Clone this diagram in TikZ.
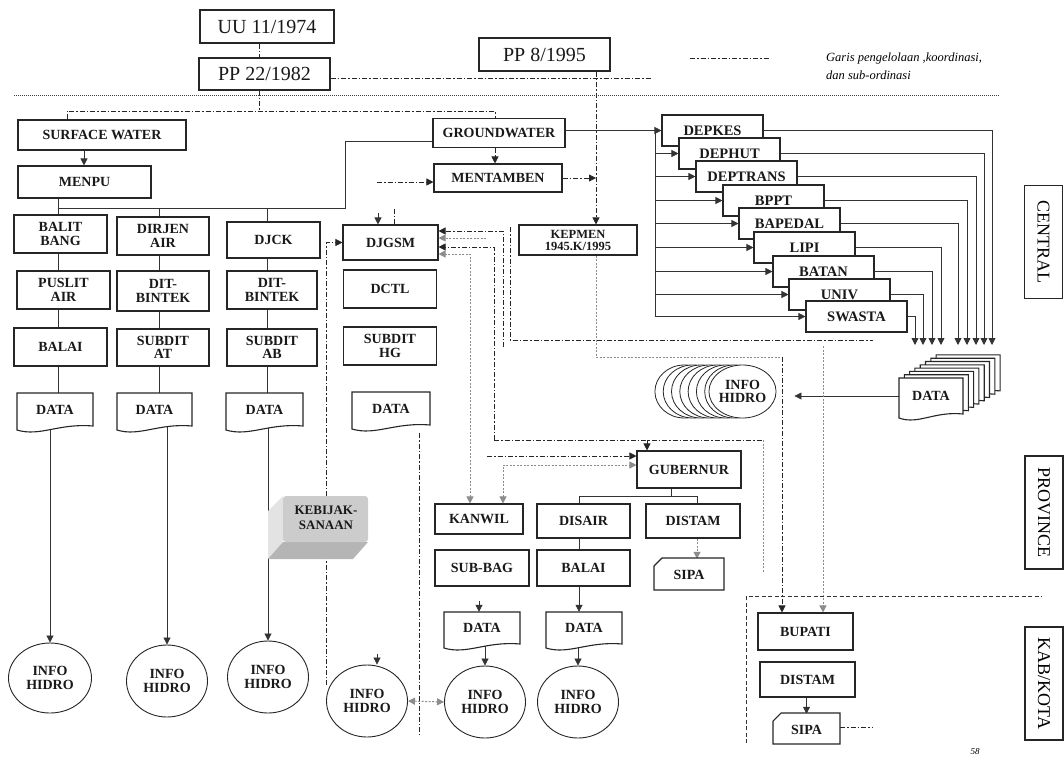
\documentclass[tikz,border=0pt]{standalone}
\usepackage{fontspec}
\setmainfont{Liberation Serif}
\usetikzlibrary{arrows.meta,shapes.geometric}
\pgfdeclarelayer{bg}
\pgfsetlayers{bg,main}
\tikzset{
  lab/.style={font=\bfseries\fontsize{14}{13.5}\selectfont, align=center, inner sep=0pt, text=black!90},
  box/.style={lab, draw=black!85, line width=1.1pt, fill=white, rectangle},
  big/.style={box, font=\fontsize{20}{20}\selectfont},
  side/.style={draw=black!85, line width=1.1pt, rotate=-90, inner sep=0pt, font=\fontsize{18}{18}\selectfont, minimum width=113pt, minimum height=38pt},
  info/.style={lab, draw=black!85, line width=0.9pt, ellipse, fill=white, minimum width=81pt, minimum height=72pt},
  conn/.style={draw=black!80, line width=0.8pt},
  dd/.style={draw=black!85, line width=0.8pt, dash pattern=on 5pt off 2pt on 1.5pt off 2pt},
  gd/.style={draw=black!45, line width=1pt, dash pattern=on 2pt off 1.5pt},
  docline/.style={draw=black!85, line width=1.1pt, fill=white},
}
\newcommand\mybx[6]{\node[box, minimum width=#4pt, minimum height=#5pt] (#1) at (#2,#3) {#6};}
\newcommand\docdraw[4]{\draw[docline] (#1,#2) -- (#3,#2) -- (#3,#4-6) .. controls ({#1+0.55*(#3-#1)},#4-9) and ({#1+0.3*(#3-#1)},#4+5) .. (#1,#4-2) -- cycle;}
\newcommand\docnode[6]{\docdraw{#2}{#3}{#4}{#5}%
  \pgfmathsetmacro\mydw{#4-#2}\pgfmathsetmacro\mydh{#5-#3-6}%
  \node[lab, minimum width=\mydw pt, minimum height=\mydh pt] (#1) at ({(#2+#4)/2},{(#3+#5-6)/2}) {#6};}
\newcommand\cardnode[6]{\draw[docline] (#2,#3+8) -- (#2+8,#3) -- (#4,#3) -- (#4,#5) -- (#2,#5) -- cycle;
  \pgfmathsetmacro\mydw{#4-#2}\pgfmathsetmacro\mydh{#5-#3}%
  \node[lab, minimum width=\mydw pt, minimum height=\mydh pt] (#1) at ({(#2+#4)/2},{(#3+#5)/2+1}) {#6};}
\begin{document}
\begin{tikzpicture}[x=1pt,y=-1pt,>={Triangle[length=7pt,width=7pt]}]
\useasboundingbox (0,0) rectangle (1064,758);
\begin{pgfonlayer}{bg}
\fill[white] (0,0) rectangle (1064,758);
\end{pgfonlayer}

% ---------- top ----------
\node[big, minimum width=134pt, minimum height=33pt] (uu) at (267,26.5) {UU 11/1974};
\node[big, minimum width=131pt, minimum height=32pt] (pp22) at (264.5,74) {PP 22/1982};
\node[big, minimum width=131pt, minimum height=33pt] (pp8) at (544.5,54.5) {PP 8/1995};
\coordinate (lg1) at (690,58); \coordinate (lg2) at (770,58);
\node[anchor=west, font=\itshape\fontsize{12.5}{18}\selectfont, align=left, inner sep=0pt] (legend) at (826,66) {Garis pengelolaan ,koordinasi,\\dan sub-ordinasi};

% ---------- central ----------
\mybx{sw}{102}{135}{168}{30}{SURFACE WATER}
\mybx{menpu}{84.5}{182}{133}{32}{MENPU}
\mybx{gw}{499}{133}{132}{29}{GROUNDWATER}
\mybx{mentamben}{498}{178}{128}{28}{MENTAMBEN}
\node[box, font=\bfseries\fontsize{12.5}{12}\selectfont, minimum width=118pt, minimum height=30pt] (kepmen) at (578,240) {KEPMEN\\1945.K/1995};

\mybx{balit}{60.5}{234}{93}{38}{BALIT\\BANG}
\mybx{puslit}{63.5}{290}{93}{38}{PUSLIT\\AIR}
\mybx{balai1}{60.5}{347}{93}{38}{BALAI}
\docnode{data1}{17}{393}{93}{432}{DATA}
\mybx{dirjen}{163}{236}{92}{38}{DIRJEN\\AIR}
\mybx{bintek1}{163}{291}{92}{40}{DIT-\\BINTEK}
\mybx{subditat}{163}{347.5}{92}{37}{SUBDIT\\AT}
\docnode{data2}{117}{393}{192}{432}{DATA}
\mybx{djck}{273.5}{240}{93}{36}{DJCK}
\mybx{bintek2}{272}{290}{90}{38}{DIT-\\BINTEK}
\mybx{subditab}{272}{347.5}{90}{37}{SUBDIT\\AB}
\docnode{data3}{226}{393}{303}{432}{DATA}
\mybx{djgsm}{390.5}{242.5}{95}{35}{DJGSM}
\mybx{dctl}{390}{289}{93}{38}{DCTL}
\mybx{subdithg}{390}{346}{93}{38}{SUBDIT\\HG}
\docnode{data4}{352}{392}{430}{431}{DATA}

% agencies
\foreach \n/\lbl/\x/\y in {depkes/DEPKES/662/115, dephut/DEPHUT/679/138, deptrans/DEPTRANS/696/161, bppt/BPPT/723/185, bapedal/BAPEDAL/739/208, lipi/LIPI/754/232, batan/BATAN/773/256, univ/UNIV/789/279, swasta/SWASTA/806/301}{
  \node[box, font=\bfseries\fontsize{14.5}{14}\selectfont, minimum width=101pt, minimum height=31pt] (\n) at (\x+50.5,\y+15.5) {\lbl};
}

% data stack
\foreach \i in {7,6,...,1}{
  \begin{scope}[shift={(\i*5.3,-\i*3.3)}]
    \docdraw{899}{378}{963}{420}
  \end{scope}
}
\docnode{dsf}{899}{378}{963}{420}{DATA}

% info stack
\foreach \i in {7,6,...,1}{
  \draw[fill=white, draw=black!85, line width=0.8pt] ({742.5-\i*8.3},391.5) ellipse [x radius=29.5, y radius=26.5];
}
\node[lab, draw=black!85, line width=0.8pt, ellipse, fill=white, minimum width=59pt, minimum height=53pt] (ihf) at (742.5,391.5) {INFO\\HIDRO};

% side labels
\node[side] (central) at (1043.5,242) {CENTRAL};
\node[side] (province) at (1044,512.5) {PROVINCE};
\node[side] (kabkota) at (1044,683.5) {KAB/KOTA};

% ---------- province ----------
\mybx{gub}{689}{469.5}{104}{37}{GUBERNUR}
\mybx{kanwil}{479}{519}{88}{30}{KANWIL}
\mybx{subbag}{482}{568}{94}{36}{SUB-BAG}
\mybx{disair}{583.5}{521}{93}{34}{DISAIR}
\mybx{balai2}{583.5}{568}{93}{36}{BALAI}
\mybx{distam}{693}{521}{94}{34}{DISTAM}
\cardnode{sipa1}{654}{558}{724}{590}{SIPA}
\docnode{data5}{444}{612}{520}{650}{DATA}
\docnode{data6}{546}{612}{622}{650}{DATA}

% ---------- kab/kota ----------
\mybx{bupati}{805.5}{631.5}{95}{37}{BUPATI}
\mybx{distam2}{807.5}{679.5}{95}{35}{DISTAM}
\cardnode{sipa2}{773}{713}{840}{744}{SIPA}

% info hidro
\node[info, minimum width=83pt, minimum height=70pt] (info1) at (50,678) {INFO\\HIDRO};
\node[info] (info2) at (167,681) {INFO\\HIDRO};
\node[info] (info3) at (268,677) {INFO\\HIDRO};
\node[info] (info4) at (367,701) {INFO\\HIDRO};
\node[info] (info5) at (485,702) {INFO\\HIDRO};
\node[info] (info6) at (578,702) {INFO\\HIDRO};

% kebijaksanaan block
\fill[gray!22] (268,511) -- (283,496) -- (283,542) -- (268,559) -- cycle;
\fill[gray!58] (268,559) -- (283,542) -- (368,542) -- (353,559) -- cycle;
\fill[gray!40, rounded corners=3pt] (283,496) rectangle (368,542);
\node[lab, font=\bfseries\fontsize{13}{15}\selectfont] (kebijak) at (326,518) {KEBIJAK-\\SANAAN};

\node[font=\itshape\fontsize{9}{9}\selectfont, inner sep=0pt] (pg) at (975,752) {58};

% ---------- connectors ----------
\begin{pgfonlayer}{bg}
\draw[dd] (lg1) -- (lg2);
\coordinate (s1) at (14,95); \coordinate (s2) at (1000,95);
\draw[draw=black!75, line width=0.9pt, dash pattern=on 1pt off 1pt] (s1) -- (s2);

\coordinate (vA) at (259,0);
\coordinate (brY) at (0,111);
\coordinate (swX) at (67,0);
\coordinate (gwX) at (495,0);
\draw[dd] (uu.south -| vA) -- (pp22.north -| vA);
\draw[dd] (pp22.south -| vA) -- (vA |- brY);
\draw[dd] (sw.north -| swX) -- (swX |- brY) -- (gwX |- brY) -- (gw.north -| gwX);
\coordinate (ppE) at (652,78);
\draw[dd] (pp22.east |- ppE) -- (ppE);

\coordinate (vx) at (596,0);
\draw[dd,->] (pp8.south -| vx) -- (kepmen.north -| vx);
\coordinate (swm) at (84,0);
\draw[conn,->] (sw.south -| swm) -- (menpu.north -| swm);
\draw[dd,->] (gw.south -| gwX) -- (mentamben.north -| gwX);
\coordinate (mtIn) at (377,182);
\draw[dd,->] (mtIn) -- (mentamben.west |- mtIn);
\draw[dd,->] (mentamben.east) -- (mentamben.east -| vx);

% groundwater to agencies
\draw[conn,->] (gw.east |- depkes.west) -- (depkes.west);
\coordinate (bus) at (655,0);
\draw[conn] (bus |- depkes.west) -- (bus |- swasta.west);
\foreach \n in {dephut,deptrans,bppt,bapedal,lipi,batan,univ,swasta}{
  \draw[conn,->] (bus |- \n.west) -- (\n.west);
}
\foreach \n/\x in {depkes/992, dephut/984, deptrans/976, bppt/967, bapedal/958, lipi/941, batan/932, univ/923, swasta/915}{
  \coordinate (in-\n) at (\x,345);
  \draw[conn,->] (\n.east) -| (in-\n);
}
\draw[conn,->,shorten >=18pt] (dsf.west) -- (dsf.west -| ihf.east);

% solid tree from groundwater / menpu
\coordinate (b1) at (345,141); \coordinate (b2) at (345,208);
\coordinate (c1) at (58,208); \coordinate (c2) at (159,208); \coordinate (c3) at (267,208);
\draw[conn] (gw.west |- b1) -- (b1) -- (b2) -- (c1);
\draw[conn] (menpu.south -| c1) -- (data1.north -| c1);
\draw[conn] (c2) -- (data2.north -| c2);
\draw[conn] (c3) -- (data3.north -| c3);
\draw[conn,->] (info1.north |- data1.south) -- (info1.north);
\draw[conn,->] (info2.north |- data2.south) -- (info2.north);
\draw[conn,->] (info3.north |- data3.south) -- (info3.north);

% DJGSM links
\coordinate (kb) at (326,685);
\draw[dd,->] (kb) |- (djgsm.west);
\draw[conn,->] ([xshift=-12.5pt,yshift=11pt]djgsm.north) -- ([xshift=-12.5pt]djgsm.north);
\draw[dd] ([xshift=3.5pt]djgsm.north) -- ++(0,-17);
\coordinate (dA) at (503,347);
\draw[dd,->] (dA) |- ([yshift=11.5pt]djgsm.east);
\coordinate (dB) at (486,238);
\draw[gd,->] (dB) -- (djgsm.east |- dB);
\coordinate (dC1) at (494,440); \coordinate (dC3) at (763,440); \coordinate (dC2) at (763,572);
\draw[dd,->] (dC1) |- ([yshift=-4.5pt]djgsm.east);
\draw[dd] (dC1) -- (dC3);
\draw[gd] (dC3) -- (dC2);
\coordinate (gN) at ([xshift=-42pt]gub.north);
\draw[dd,->] (gN |- dC1) -- (gN);
\coordinate (kN1) at ([xshift=-9pt]kanwil.north);
\draw[gd,<->] (kN1) |- ([yshift=-11.5pt]djgsm.east);
\coordinate (e1) at (510,227); \coordinate (e2) at (873,340);
\draw[dd] (e1) |- (e2);
\coordinate (bN2) at ([xshift=17.5pt]bupati.north);
\coordinate (e3) at (823,346);
\draw[gd,->] (e3) -- (bN2);
\coordinate (bN1) at ([xshift=-23.5pt]bupati.north);
\coordinate (kq) at (596,357);
\draw[gd] (kepmen.south -| vx) -- (kq) -- (kq -| bN1);
\draw[dd,->] (kq -| bN1) -- (bN1);

% gubernur links
\coordinate (g1) at (487,456);
\draw[dd,->] (g1) -- (gub.west |- g1);
\coordinate (kN2) at ([xshift=24pt]kanwil.north);
\draw[gd,<->] (kN2) |- ([yshift=4.5pt]gub.west);
\coordinate (gs) at ([xshift=-18pt]gub.south); \coordinate (tY) at (0,496);
\coordinate (dsX) at (579,0); \coordinate (dtX) at (697,0);
\draw[conn] (gs) -- (gs |- tY);
\draw[conn] (disair.north -| dsX) |- (dtX |- tY) -- (distam.north -| dtX);
\draw[gd,->] (distam.south -| dtX) -- (sipa1.north -| dtX);
\draw[conn] (disair.south -| dsX) -- (balai2.north -| dsX);
\draw[conn,->] (balai2.south -| dsX) -- (data6.north -| dsX);
\draw[conn,->] ([xshift=-3pt,yshift=11pt]data5.north) -- ([xshift=-3pt]data5.north);
\draw[conn,->] (info5.north |- data5.south) -- (info5.north);
\draw[conn,->] (info6.north |- data6.south) -- (info6.north);
\draw[conn,->] ([xshift=10pt,yshift=11pt]info4.north) -- ([xshift=10pt]info4.north);
\draw[gd,<->] (info4.east) -- (info5.west);
\coordinate (f1) at (419,433); \coordinate (f2) at (419,735);
\draw[dd] (f1) -- (f2);

% kab/kota
\coordinate (k1) at (746,743); \coordinate (k2) at (1042,596);
\draw[draw=black!80, line width=0.9pt, dash pattern=on 4pt off 2.5pt] (k1) |- (k2);
\draw[conn,->] (sipa2.north |- distam2.south) -- (sipa2.north);
\coordinate (sp) at (872,727);
\draw[dd] (sipa2.east |- sp) -- (sp);
\end{pgfonlayer}
\end{tikzpicture}
\end{document}
